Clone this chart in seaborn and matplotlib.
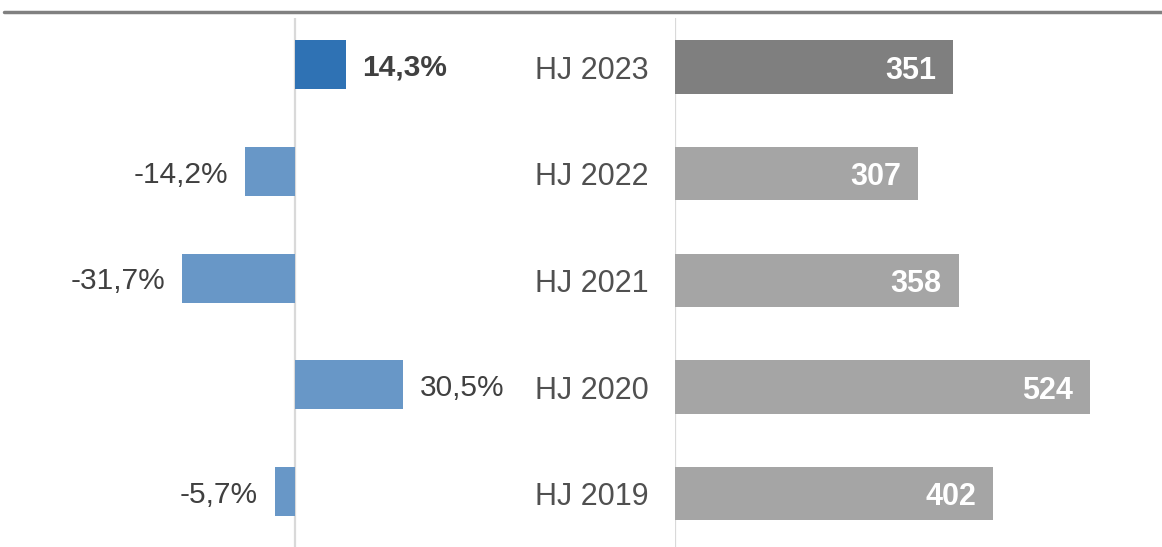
import matplotlib.pyplot as plt
import matplotlib.lines as mlines
import seaborn as sns
import pandas as pd

# Data
periods = ['HJ 2023', 'HJ 2022', 'HJ 2021', 'HJ 2020', 'HJ 2019']
change_pct = [14.3, -14.2, -31.7, 30.5, -5.7]
values = [351, 307, 358, 524, 402]

df = pd.DataFrame({'period': periods, 'change': change_pct, 'value': values})

sns.set_theme(style='white')
plt.rcParams['font.family'] = ['Liberation Sans', 'DejaVu Sans']

W, H = 1162, 547
fig = plt.figure(figsize=(W / 100, H / 100), dpi=100)

top = 18
ax_l = fig.add_axes([0, 0, 530 / W, (H - top) / H])
ax_r = fig.add_axes([675 / W, 0, (W - 675) / W, (H - top) / H])

# left panel: change in percent
pct_colors = ['#2F72B4'] + ['#6897C7'] * 4
sns.barplot(data=df, y='period', x='change', hue='period', palette=pct_colors,
            orient='h', width=0.46, legend=False, ax=ax_l, saturation=1,
            linewidth=0)
ax_l.set_xlim(-295 / 3.55, 235 / 3.55)
ax_l.set_ylim(4.52, -0.44)
ax_l.axvline(0, color='#d9d9d9', lw=1.6, zorder=0)
for i, v in enumerate(change_pct):
    label = f'{v:.1f}%'.replace('.', ',')
    if v >= 0:
        ax_l.annotate(label, (v, i), xytext=(12, 0), textcoords='offset points',
                      ha='left', va='center_baseline', fontsize=21.5,
                      color='#404040',
                      fontweight='bold' if i == 0 else 'normal')
    else:
        ax_l.annotate(label, (v, i), xytext=(-12, 0), textcoords='offset points',
                      ha='right', va='center_baseline', fontsize=21.5,
                      color='#404040')
ax_l.set_yticks([])
ax_l.set_xticks([])
ax_l.set_xlabel('')
ax_l.set_ylabel('')
sns.despine(ax=ax_l, left=True, bottom=True)

# right panel: absolute values
val_colors = ['#7F7F7F'] + ['#A5A5A5'] * 4
sns.barplot(data=df, y='period', x='value', hue='period', palette=val_colors,
            orient='h', width=0.5, legend=False, ax=ax_r, saturation=1,
            linewidth=0)
ax_r.set_xlim(0, (W - 675) / 0.792)
ax_r.set_ylim(4.5, -0.46)
ax_r.axvline(0, color='#d9d9d9', lw=1.6, zorder=0)
for i, v in enumerate(values):
    ax_r.annotate(str(v), (v, i), xytext=(-12, 0), textcoords='offset points',
                  ha='right', va='center_baseline', fontsize=22, color='white',
                  fontweight='bold')
ax_r.set_xticks([])
ax_r.tick_params(axis='y', length=0, pad=19, labelsize=22, labelcolor='#505050')
ax_r.set_xlabel('')
ax_r.set_ylabel('')
sns.despine(ax=ax_r, left=True, bottom=True)

# top rule
fig.add_artist(mlines.Line2D([4 / W, 1], [1 - 12 / H, 1 - 12 / H],
                             color='#808080', lw=2.5))

fig.savefig('out.png', dpi=100)
